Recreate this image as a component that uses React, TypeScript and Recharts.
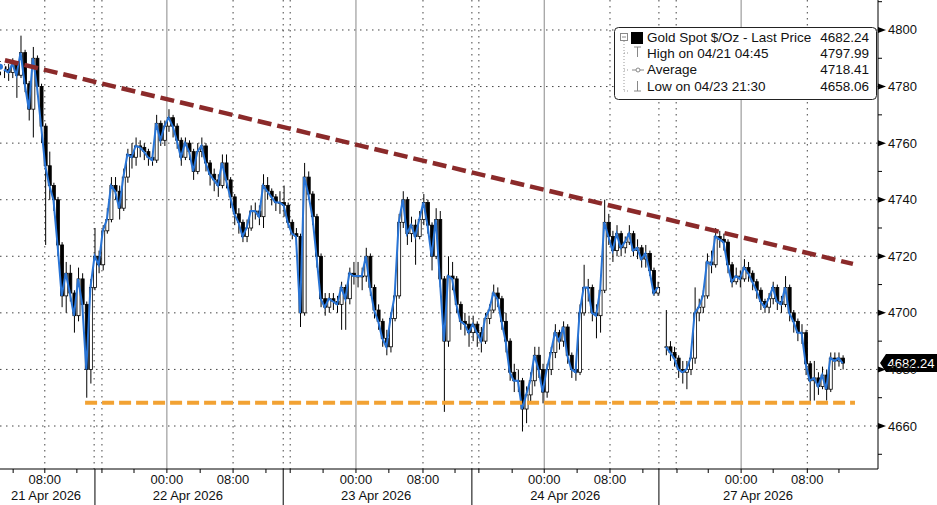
import React from 'react';
import { ComposedChart, Bar, Line, XAxis, YAxis, CartesianGrid, ReferenceLine } from 'recharts';

// 30-minute bars, gold spot, 21-27 Apr 2026 (slot index = bar number)
const closes: (number | null)[] = [
  4787, 4786, 4785, 4788, 4784, 4792, 4781, 4772, 4790, 4780,
  4766, 4752, 4745, 4740, 4724, 4706, 4714, 4707, 4699, 4712,
  4703, 4680, 4709, 4720, 4717, 4729, 4733, 4745, 4743, 4737,
  4748, 4756, 4755, 4759, 4758.5, 4757, 4755, 4754, 4767, 4761,
  4766, 4769, 4766, 4761, 4755, 4760, 4757, 4750, 4757, 4759,
  4753, 4749, 4747, 4745, 4753, 4747, 4741, 4735, 4732, 4727,
  4730, 4736, 4736, 4734, 4745, 4743, 4741, 4739, 4739, 4738,
  4732, 4728, 4727, 4700, 4748, 4742, 4734, 4720, 4705, 4702,
  4705, 4704, 4703, 4709, 4705, 4714, 4713, 4713, 4713, 4720,
  4709, 4701, 4697, 4691, 4688, 4698, 4706, 4732, 4740, 4728,
  4731, 4727, 4733, 4739, 4731, 4720, 4733, 4712, 4690, 4713,
  4712, 4703, 4697, 4696, 4693, 4696, 4693, 4690, 4698, 4701,
  4707, 4705, 4697, 4690, 4679, 4676, 4676, 4666, 4671, 4676,
  4685, 4680, 4672, 4680, 4686, 4693, 4690, 4695, 4685, 4680,
  4679, 4700, 4709, 4709, 4700, 4699, 4708, 4732, 4727, 4722,
  4728, 4723, 4725, 4728, 4722, 4723, 4719, 4721, 4715, 4707,
  4709, null, 4688, 4686, 4684, 4680, 4679, 4680, 4684, 4700,
  4702, 4706, 4718, 4717, 4727, 4726, 4725, 4717, 4711, 4713,
  4712, 4716, 4714, 4711, 4708, 4704, 4702, 4705, 4709, 4704,
  4703, 4709, 4700, 4697, 4693, 4693, 4682, 4676, 4677, 4674,
  4678, 4673, 4684, 4683, 4684, 4682.24,
];

const highs: (number | null)[] = [
  4789, 4788, 4788, 4790, 4789, 4798, 4793, 4782, 4794, 4791,
  4781, 4767, 4757, 4746, 4741, 4725, 4718, 4717, 4708, 4716,
  4714, 4704, 4712, 4730, 4722, 4731, 4737, 4748, 4748, 4745,
  4751, 4758, 4760, 4762, 4761, 4760, 4758, 4757, 4770, 4768,
  4768, 4772, 4770, 4767, 4762, 4762, 4761, 4758, 4760, 4762,
  4760, 4754, 4751, 4749, 4756, 4756, 4748, 4742, 4737, 4733,
  4733, 4738, 4739, 4738, 4749, 4748, 4744, 4742, 4743, 4745,
  4739, 4733, 4730, 4728, 4753, 4750, 4743, 4735, 4721, 4707,
  4707, 4707, 4706, 4711, 4710, 4716, 4718, 4718, 4716, 4723,
  4721, 4710, 4703, 4698, 4694, 4700, 4708, 4735, 4743, 4741,
  4734, 4733, 4736, 4742, 4740, 4732, 4737, 4736, 4713, 4720,
  4718, 4713, 4704, 4700, 4699, 4699, 4697, 4695, 4700, 4703,
  4710, 4709, 4706, 4700, 4691, 4682, 4680, 4677, 4674, 4679,
  4688, 4688, 4682, 4682, 4688, 4696, 4694, 4697, 4696, 4686,
  4682, 4703, 4717, 4712, 4710, 4703, 4712, 4740, 4735, 4729,
  4731, 4729, 4727, 4731, 4729, 4726, 4724, 4724, 4722, 4716,
  4711, null, 4701, 4690, 4688, 4685, 4683, 4683, 4686, 4709,
  4705, 4708, 4721, 4722, 4730, 4729, 4728, 4726, 4718, 4716,
  4715, 4719, 4718, 4715, 4712, 4709, 4705, 4707, 4711, 4710,
  4706, 4713, 4710, 4701, 4698, 4696, 4694, 4683, 4683, 4679,
  4681, 4680, 4686, 4686, 4686, 4685,
];

const lows: (number | null)[] = [
  4784, 4783, 4782, 4783, 4776, 4783, 4778, 4768, 4762, 4777,
  4760, 4724, 4740, 4736, 4720, 4702, 4700, 4704, 4693, 4697,
  4700, 4670, 4675, 4708, 4714, 4715, 4728, 4732, 4740, 4733,
  4736, 4746, 4751, 4752, 4755, 4754, 4752, 4752, 4753, 4759,
  4759, 4764, 4762, 4758, 4752, 4754, 4754, 4747, 4749, 4755,
  4750, 4745, 4743, 4741, 4744, 4744, 4737, 4731, 4728, 4725,
  4725, 4729, 4733, 4731, 4730, 4740, 4738, 4736, 4735, 4734,
  4730, 4726, 4724, 4695, 4699, 4740, 4731, 4716, 4702, 4699,
  4700, 4701, 4700, 4694, 4694, 4703, 4710, 4709, 4708, 4711,
  4706, 4698, 4694, 4688, 4685, 4686, 4697, 4705, 4730, 4724,
  4725, 4717, 4726, 4731, 4728, 4715, 4719, 4709, 4665, 4688,
  4708, 4700, 4694, 4692, 4688, 4690, 4688, 4686, 4689, 4696,
  4700, 4702, 4694, 4686, 4676, 4672, 4672, 4658.06, 4661, 4668,
  4674, 4677, 4668, 4670, 4678, 4684, 4687, 4688, 4682, 4677,
  4676, 4678, 4699, 4704, 4697, 4691, 4693, 4707, 4724, 4718,
  4720, 4720, 4721, 4724, 4720, 4719, 4716, 4716, 4713, 4706,
  4706, null, 4685, 4683, 4681, 4677, 4675, 4673, 4678, 4682,
  4697, 4700, 4705, 4714, 4716, 4723, 4722, 4714, 4709, 4710,
  4709, 4711, 4711, 4708, 4705, 4701, 4700, 4700, 4703, 4701,
  4700, 4702, 4697, 4693, 4690, 4689, 4678, 4668, 4669, 4671,
  4673, 4669, 4672, 4680, 4681, 4680,
];

const lastPrice = 4682.24;

// axis ticks (x in bar slots)
const hourTicks = [3.2, 10.9, 18.7, 24.8, 32.6, 40.6, 48.7, 56.7, 64.7, 70.6, 78.6, 86.6, 94.6, 102.9, 110.7,
  116.5, 124.6, 132.4, 140.4, 148.4, 156.4, 164.7, 172.3, 180.3, 188.1, 196.4, 204.1];
const timeTickAt = [10.9, 40.6, 56.7, 86.6, 102.9, 132.4, 148.4, 180.3, 196.4];
const timeTickText = ['08:00', '00:00', '08:00', '00:00', '08:00', '00:00', '08:00', '00:00', '08:00'];
const dateAt = [11.2, 45.7, 91.5, 137.5, 184.4];
const dateText = ['21 Apr 2026', '22 Apr 2026', '23 Apr 2026', '24 Apr 2026', '27 Apr 2026'];
const daySeparators = [23.1, 68.9, 114.8, 160.3];
const midnightLines = [40.6, 86.6, 132.4, 180.3];
const dottedVerticals = [10.9, 22.9, 24.8, 56.7, 68.9, 70.6, 102.9, 114.8, 116.5, 148.4, 160.3, 164.5, 196.4];

const yMajor = [4660, 4680, 4700, 4720, 4740, 4760, 4780, 4800];
const yTicks = [4650, 4660, 4670, 4680, 4690, 4700, 4710, 4720, 4730, 4740, 4750, 4760, 4770, 4780, 4790, 4800, 4810];

// trend lines drawn on the chart
const resistance = [{ x: 1.2, y: 4789.3 }, { x: 207.5, y: 4717.3 }];
const support = [{ x: 20.7, y: 4668.2 }, { x: 208, y: 4668.2 }];

const legendRows = [
  { label: 'Gold Spot $/Oz - Last Price', value: '4682.24' },
  { label: 'High on 04/21 04:45', value: '4797.99' },
  { label: 'Average', value: '4718.41' },
  { label: 'Low on 04/23 21:30', value: '4658.06' },
];

const rows = closes.map((c, i) => ({
  slot: i,
  close: c,
  high: highs[i],
  low: lows[i],
  open: i > 0 && closes[i - 1] != null ? closes[i - 1] : c,
}));

const FONT = '"Liberation Sans", Arial, sans-serif';

const Candle = (props: any) => {
  const { x, y, width, height, payload } = props;
  if (!payload || payload.close == null) return <g />;
  const top = Math.min(y, y + height);
  const bot = Math.max(y, y + height);
  const span = payload.high - payload.low || 1;
  const py = (v: number) => top + ((payload.high - v) / span) * (bot - top);
  const cx = x + width / 2;
  const up = payload.close >= payload.open;
  const bTop = py(Math.max(payload.open, payload.close));
  const bBot = py(Math.min(payload.open, payload.close));
  return (
    <g>
      <line x1={cx} x2={cx} y1={top} y2={bot} stroke="#000" strokeWidth={1} />
      <rect x={x} y={bTop} width={width} height={Math.max(bBot - bTop, 0.8)}
        fill={up ? '#fff' : '#000'} stroke="#000" strokeWidth={0.8} />
    </g>
  );
};

const XTick = (props: any) => {
  const { x, y, payload } = props;
  const v = payload.value;
  const ti = timeTickAt.indexOf(v);
  const di = dateAt.indexOf(v);
  return (
    <g>
      {daySeparators.includes(v) && <line x1={x} x2={x} y1={y} y2={y + 40} stroke="#000" />}
      {hourTicks.includes(v) && <line x1={x} x2={x} y1={y} y2={y + 4} stroke="#000" />}
      {ti >= 0 && (
        <text x={x} y={y + 15} textAnchor="middle" fontSize={13} fontFamily={FONT} fill="#111">{timeTickText[ti]}</text>
      )}
      {di >= 0 && (
        <text x={x} y={y + 31} textAnchor="middle" fontSize={13} fontFamily={FONT} fill="#111">{dateText[di]}</text>
      )}
    </g>
  );
};

const YTick = (props: any) => {
  const { x, y, payload } = props;
  const v = payload.value;
  if (v % 20 !== 0) return <line x1={x} x2={x + 4} y1={y} y2={y} stroke="#000" />;
  return (
    <g>
      <polygon points={`${x},${y - 3} ${x},${y + 3} ${x + 8},${y}`} fill="#000" />
      <text x={x + 10} y={y + 4.5} fontSize={13} fontFamily={FONT} fill="#111">{v}</text>
    </g>
  );
};

const LastTag = (props: any) => {
  const vb = props.viewBox || {};
  const right = vb.x + vb.width;
  const y = vb.y;
  return (
    <g>
      <polygon points={`${right + 2},${y} ${right + 8},${y - 9} ${right + 59},${y - 9} ${right + 59},${y + 9} ${right + 8},${y + 9}`} fill="#000" />
      <text x={right + 33} y={y + 4.5} textAnchor="middle" fontSize={13} fontFamily={FONT} fill="#fff">{lastPrice.toFixed(2)}</text>
    </g>
  );
};

const LegendBox = () => {
  const baselines = [16, 31.5, 48, 64.5];
  return (
    <svg width={265} height={76} style={{ position: 'absolute', left: 613, top: 26 }}>
      <rect x={1.5} y={1.5} width={262} height={72} rx={4} fill="#fff" stroke="#222" />
      {/* tree connectors */}
      <rect x={7.5} y={7.5} width={7} height={7} fill="#fff" stroke="#888" />
      <line x1={9} x2={13} y1={11} y2={11} stroke="#888" />
      <line x1={11} x2={11} y1={15} y2={65} stroke="#999" strokeDasharray="1 2" />
      <line x1={11} x2={17} y1={27} y2={27} stroke="#999" strokeDasharray="1 2" />
      <line x1={11} x2={17} y1={44} y2={44} stroke="#999" strokeDasharray="1 2" />
      <line x1={11} x2={17} y1={65} y2={65} stroke="#999" strokeDasharray="1 2" />
      {/* series icons */}
      <rect x={18} y={6} width={12} height={12} fill="#000" />
      <line x1={21} x2={28} y1={21} y2={21} stroke="#888" />
      <line x1={24.5} x2={24.5} y1={21} y2={31} stroke="#888" />
      <line x1={19} x2={31} y1={44} y2={44} stroke="#888" />
      <circle cx={25} cy={44} r={2} fill="#fff" stroke="#888" />
      <line x1={24.5} x2={24.5} y1={55} y2={65} stroke="#888" />
      <line x1={21} x2={28} y1={65} y2={65} stroke="#888" />
      {legendRows.map((r, i) => (
        <g key={r.label}>
          <text x={34} y={baselines[i]} fontSize={13.5} fontFamily={FONT} fill="#111">{r.label}</text>
          <text x={256} y={baselines[i]} textAnchor="end" fontSize={13.5} fontFamily={FONT} fill="#111">{r.value}</text>
        </g>
      ))}
    </svg>
  );
};

export default function App() {
  return (
    <div style={{ position: 'absolute', left: 0, top: 0, width: 937, height: 505, background: '#fff', overflow: 'hidden' }}>
      <ComposedChart width={937} height={505} data={rows} margin={{ top: 0, right: 0, bottom: 0, left: 0 }}>
        <CartesianGrid horizontalValues={yMajor} verticalValues={dottedVerticals} stroke="#444" strokeDasharray="1.5 4.5" />
        <CartesianGrid horizontal={false} verticalValues={midnightLines} stroke="#888" />
        <XAxis
          type="number"
          dataKey="slot"
          domain={[0, 213.6]}
          allowDataOverflow
          ticks={[...hourTicks, ...dateAt, ...daySeparators]}
          interval={0}
          tick={(p: any) => <XTick {...p} />}
          tickSize={0}
          tickMargin={0}
          tickLine={false}
          axisLine={{ stroke: '#000' }}
          height={36}
        />
        <YAxis
          orientation="right"
          type="number"
          domain={[4644.8, 4810.6]}
          allowDataOverflow
          ticks={yTicks}
          interval={0}
          tick={(p: any) => <YTick {...p} />}
          tickSize={0}
          tickMargin={0}
          tickLine={false}
          axisLine={{ stroke: '#000' }}
          width={59}
        />
        <Bar dataKey={(d: any) => (d.close == null ? null : [d.low, d.high])} barSize={3} shape={<Candle />} isAnimationActive={false} />
        <Line dataKey="close" stroke="#2874d6" strokeWidth={2} dot={false} connectNulls={false} isAnimationActive={false} />
        <ReferenceLine segment={resistance} stroke="#8b2a2a" strokeWidth={4.5} strokeDasharray="14 6" />
        <ReferenceLine segment={support} stroke="#f2a233" strokeWidth={4} strokeDasharray="12 5" />
        <ReferenceLine y={lastPrice} stroke="none" label={(p: any) => <LastTag {...p} />} />
      </ComposedChart>
      <LegendBox />
    </div>
  );
}
